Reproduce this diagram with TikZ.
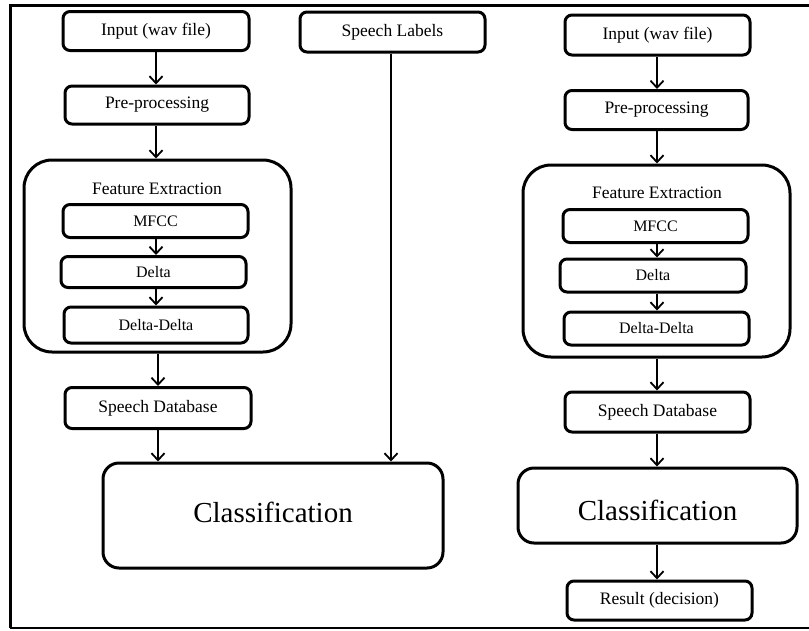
\documentclass[tikz,border=0pt]{standalone}
\usepackage{fontspec}
\setmainfont{Liberation Serif}
\usetikzlibrary{arrows.meta}
\begin{document}
\begin{tikzpicture}[x=1pt,y=-1pt,
  box/.style={draw,line width=3pt,rounded corners=7pt,inner sep=0pt,font=\fontsize{17.5}{20}\selectfont},
  ibox/.style={box,font=\fontsize{16}{18}\selectfont},
  bigbox/.style={draw,line width=3pt,rounded corners=28pt,inner sep=0pt},
  clsbox/.style={draw,line width=3pt,rounded corners=16pt,inner sep=0pt,font=\fontsize{29}{32}\selectfont},
  title/.style={inner sep=0pt,font=\fontsize{17.5}{20}\selectfont},
  arr/.style={-{Straight Barb[length=7pt,width=13pt,line width=1.8pt]},line width=2pt}]
\useasboundingbox (0,0) rectangle (809,630);
% frame
\draw[line width=3pt] (10,628) -- (10,5) -- (809,5);
\draw[line width=1.6pt] (10,628) -- (809,628);
% left column
\node[box,minimum width=186pt,minimum height=39pt] (in1) at (156,31) {Input (wav file)};
\node[box,minimum width=184pt,minimum height=38pt] (pre1) at (157,105) {Pre-processing};
\node[bigbox,minimum width=267pt,minimum height=192pt] (fe1) at (157.5,256) {};
\node[title] (fet1) at (157,189) {Feature Extraction};
\node[ibox,minimum width=185pt,minimum height=33pt] (mf1) at (155.5,221) {MFCC};
\node[ibox,minimum width=185pt,minimum height=31pt] (de1) at (153.5,272) {Delta};
\node[ibox,minimum width=184pt,minimum height=36pt] (dd1) at (156,325) {Delta-Delta};
\node[box,minimum width=186pt,minimum height=41pt] (sdb1) at (158,408) {Speech Database};
\node[clsbox,minimum width=340pt,minimum height=105pt] (cls1) at (273,515.5) {};
\node[inner sep=0pt,font=\fontsize{29}{32}\selectfont] (cl1) at (273,512) {Classification};
\node[box,minimum width=185pt,minimum height=40pt] (lab) at (392.5,32) {Speech Labels};
\draw[arr] (in1.south -| 156,0) -- (pre1.north -| 156,0);
\draw[arr] (pre1.south -| 156,0) -- (fe1.north -| 156,0);
\draw[arr] (mf1.south -| 156,0) -- (de1.north -| 156,0);
\draw[arr] (de1.south -| 156,0) -- (dd1.north -| 156,0);
\draw[arr] (fe1.south -| sdb1) -- (sdb1.north);
\draw[arr] (sdb1) -- (sdb1 |- cls1.north);
\draw[arr] (lab.south -| 391,0) -- (cls1.north -| 391,0);
% right column
\node[box,minimum width=185pt,minimum height=40pt] (in2) at (657.5,35) {Input (wav file)};
\node[box,minimum width=183pt,minimum height=39pt] (pre2) at (656.5,110) {Pre-processing};
\node[bigbox,minimum width=267pt,minimum height=192pt] (fe2) at (656.5,261) {};
\node[title] (fet2) at (657,193) {Feature Extraction};
\node[ibox,minimum width=185pt,minimum height=33pt] (mf2) at (655.5,226) {MFCC};
\node[ibox,minimum width=186pt,minimum height=33pt] (de2) at (653,275.5) {Delta};
\node[ibox,minimum width=185pt,minimum height=33pt] (dd2) at (656.5,328.5) {Delta-Delta};
\node[box,minimum width=185pt,minimum height=40pt] (sdb2) at (657.5,412) {Speech Database};
\node[clsbox,minimum width=279pt,minimum height=75pt] (cls2) at (657.5,505.5) {};
\node[inner sep=0pt,font=\fontsize{29}{32}\selectfont] (cl2) at (657.5,510) {Classification};
\node[box,minimum width=185pt,minimum height=39pt] (res) at (659.5,600.5) {Result (decision)};
\draw[arr] (in2.south -| 657,0) -- (pre2.north -| 657,0);
\draw[arr] (pre2.south -| 657,0) -- (fe2.north -| 657,0);
\draw[arr] (mf2.south -| 657,0) -- (de2.north -| 657,0);
\draw[arr] (de2.south -| 657,0) -- (dd2.north -| 657,0);
\draw[arr] (fe2.south -| 657,0) -- (sdb2.north -| 657,0);
\draw[arr] (sdb2.south -| 657,0) -- (cls2.north -| 657,0);
\draw[arr] (cls2.south -| 657,0) -- (res.north -| 657,0);
\end{tikzpicture}
\end{document}
